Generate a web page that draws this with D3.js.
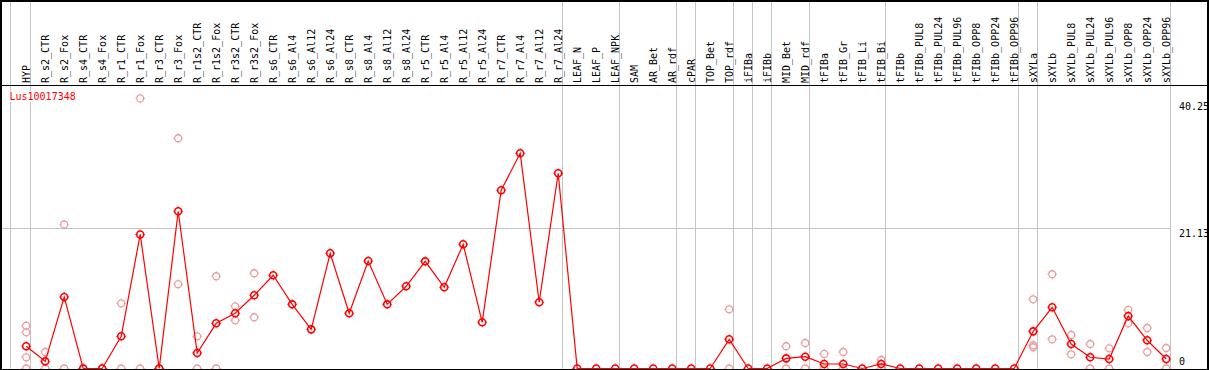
<!DOCTYPE html>
<html>
<head>
<meta charset="utf-8">
<style>
  body { margin: 0; background: #fff; }
  svg text { font-family: "DejaVu Sans Mono", monospace; font-size: 10px; }
</style>
</head>
<body>
<svg width="1209" height="370"></svg>
<script src="https://d3js.org/d3.v7.min.js"></script>
<script>

var geneId = "Lus10017348";

var samples = ["HYP",
  "R_s2_CTR", "R_s2_Fox", "R_s4_CTR", "R_s4_Fox", "R_r1_CTR", "R_r1_Fox", "R_r3_CTR", "R_r3_Fox",
  "R_r1s2_CTR", "R_r1s2_Fox", "R_r3s2_CTR", "R_r3s2_Fox", "R_s6_CTR", "R_s6_Al4", "R_s6_Al12", "R_s6_Al24",
  "R_s8_CTR", "R_s8_Al4", "R_s8_Al12", "R_s8_Al24", "R_r5_CTR", "R_r5_Al4", "R_r5_Al12", "R_r5_Al24",
  "R_r7_CTR", "R_r7_Al4", "R_r7_Al12", "R_r7_Al24",
  "LEAF_N", "LEAF_P", "LEAF_NPK", "SAM", "AR_Bet", "AR_rdf", "cPAR", "TOP_Bet", "TOP_rdf",
  "iFIBa", "iFIBb", "MID_Bet", "MID_rdf", "tFIBa", "tFIB_Gr", "tFIB_Li", "tFIB_Bi",
  "tFIBb", "tFIBb_PUL8", "tFIBb_PUL24", "tFIBb_PUL96", "tFIBb_OPP8", "tFIBb_OPP24", "tFIBb_OPP96",
  "sXYLa", "sXYLb", "sXYLb_PUL8", "sXYLb_PUL24", "sXYLb_PUL96", "sXYLb_OPP8", "sXYLb_OPP24", "sXYLb_OPP96"];

// first sample of each tissue group (a grey separator is drawn before it)
var groupStarts = ["HYP", "R_s2_CTR", "LEAF_N", "SAM", "cPAR", "TOP_Bet", "iFIBa", "iFIBb",
  "MID_Bet", "tFIBa", "tFIBb", "sXYLa", "sXYLb"];

// mean expression (red line)
var means = [3.35,
  1.08, 10.78, 0, 0, 4.85, 20.2, 0, 23.7,
  2.34, 6.81, 8.32, 11.03, 14.05, 9.67, 5.9, 17.36,
  8.32, 16.2, 9.67, 12.39, 16.15, 12.24, 18.72, 6.96,
  26.86, 32.43, 9.98, 29.42,
  0, 0, 0, 0, 0, 0, 0, 0, 4.4,
  0, 0, 1.53, 1.78, 0.68, 0.68, 0, 0.68,
  0, 0, 0, 0, 0, 0, 0,
  5.6, 9.22, 3.69, 1.69, 1.43, 7.91, 4.25, 1.43];

// replicate values (pink circles)
var reps = [[6.45, 5.45, 1.69, 0],
  [2.49, 0], [21.7, 0], [0, 0], [0, 0], [9.82, 0], [40.7, 0], [0, 0], [34.7, 12.7],
  [4.85, 0], [13.9, 0], [9.37, 7.26], [14.35, 7.72], [], [], [], [],
  [], [], [], [], [], [], [], [],
  [], [], [], [],
  [], [], [], [], [], [], [], [], [8.92, 0],
  [], [], [3.35, 0], [3.84, 0], [2.19, 0], [2.49, 0], [], [1.28, 0],
  [], [], [], [], [], [], [],
  [10.43, 3.5, 3.2], [14.2, 4.4], [5.05, 2.14], [3.69, 0], [3.04, 0], [8.82, 6.81], [6.1, 2.49], [3.09, 0]];

var yTicks = [0, 21.13, 40.25];
var yGrid = [21.13];

var svg = d3.select("svg"),
    width = +svg.attr("width"),
    height = +svg.attr("height");

var headerY = 85;

var x = d3.scaleBand().domain(samples).range([11, 1170]);
var y = d3.scaleLinear().domain([0, 40.25]).range([368.5, 101.4]);

function cx(name) { return x(name) + x.bandwidth() * 0.8; }

// grey separators
var sepX = groupStarts.map(function(g, i) { return i == 0 ? x(g) - 0.5 : Math.round(x(g)) + 0.5; });
sepX.push(x.range()[1] + 0.5);

svg.selectAll(".sep")
    .data(sepX)
    .enter().append("line")
    .attr("x1", function(d) { return d; })
    .attr("x2", function(d) { return d; })
    .attr("y1", 0)
    .attr("y2", height)
    .attr("stroke", "#c4c4c4")
    .attr("stroke-width", 1);

svg.selectAll(".hgrid")
    .data(yGrid)
    .enter().append("line")
    .attr("x1", 2)
    .attr("x2", x.range()[1] + 0.5)
    .attr("y1", function(d) { return Math.floor(y(d)) + 0.5; })
    .attr("y2", function(d) { return Math.floor(y(d)) + 0.5; })
    .attr("stroke", "#c4c4c4")
    .attr("stroke-width", 1);

// marker: open circle with tiny ticks at the four compass points
function marker(sel, color, sw) {
    var r = 3.5;
    sel.append("circle")
        .attr("r", r)
        .attr("fill", "none")
        .attr("stroke", color)
        .attr("stroke-width", sw);
    [[0, -1], [0, 1], [-1, 0], [1, 0]].forEach(function(v) {
        sel.append("line")
            .attr("x1", v[0] * (r + 0.6)).attr("y1", v[1] * (r + 0.6))
            .attr("x2", v[0] * (r + 1.4)).attr("y2", v[1] * (r + 1.4))
            .attr("stroke", color)
            .attr("stroke-width", 1);
    });
}

var plot = svg.append("g");

var repPoints = [];
samples.forEach(function(s, i) {
    reps[i].forEach(function(v) { repPoints.push({ s: s, v: v }); });
});

plot.selectAll(".rep")
    .data(repPoints)
    .enter().append("g")
    .attr("class", "rep")
    .attr("transform", function(d) { return "translate(" + cx(d.s) + "," + y(d.v) + ")"; })
    .each(function() { marker(d3.select(this), "#eb9c9c", 1.3); });

var line = d3.line()
    .x(function(d, i) { return cx(samples[i]); })
    .y(function(d) { return y(d); });

plot.append("path")
    .datum(means)
    .attr("fill", "none")
    .attr("stroke", "#ff0000")
    .attr("stroke-width", 1.2)
    .attr("d", line);

plot.selectAll(".mean")
    .data(means)
    .enter().append("g")
    .attr("class", "mean")
    .attr("transform", function(d, i) { return "translate(" + cx(samples[i]) + "," + y(d) + ")"; })
    .each(function() { marker(d3.select(this), "#ff0000", 1.6); });

// header: rotated sample names
svg.selectAll(".lab")
    .data(samples)
    .enter().append("text")
    .attr("transform", function(d) { return "translate(" + (cx(d) + 3.6) + "," + (headerY - 2) + ") rotate(-90)"; })
    .attr("fill", "#000")
    .text(function(d) { return d; });

// frame
svg.append("line").attr("x1", 0).attr("x2", width).attr("y1", 1).attr("y2", 1).attr("stroke", "#000").attr("stroke-width", 2);
svg.append("line").attr("x1", 1).attr("x2", 1).attr("y1", 0).attr("y2", height).attr("stroke", "#000").attr("stroke-width", 2);
svg.append("line").attr("x1", width - 1).attr("x2", width - 1).attr("y1", 0).attr("y2", height).attr("stroke", "#000").attr("stroke-width", 2);
svg.append("line").attr("x1", 0).attr("x2", width).attr("y1", headerY + 0.5).attr("y2", headerY + 0.5).attr("stroke", "#000").attr("stroke-width", 1);
svg.append("line").attr("x1", 0).attr("x2", width).attr("y1", height - 0.5).attr("y2", height - 0.5).attr("stroke", "#000").attr("stroke-width", 1);

// y values on the right
svg.selectAll(".ytick")
    .data(yTicks)
    .enter().append("text")
    .attr("x", 1179)
    .attr("y", function(d) { return Math.min(y(d) + 9, height - 5); })
    .attr("fill", "#000")
    .text(function(d) { return d; });

// gene id
svg.append("rect")
    .attr("x", 8).attr("y", 91).attr("width", 68).attr("height", 11)
    .attr("fill", "#fff");
svg.append("text")
    .attr("x", 9.5)
    .attr("y", 100)
    .attr("fill", "#ff0000")
    .text(geneId);

</script>
</body>
</html>
